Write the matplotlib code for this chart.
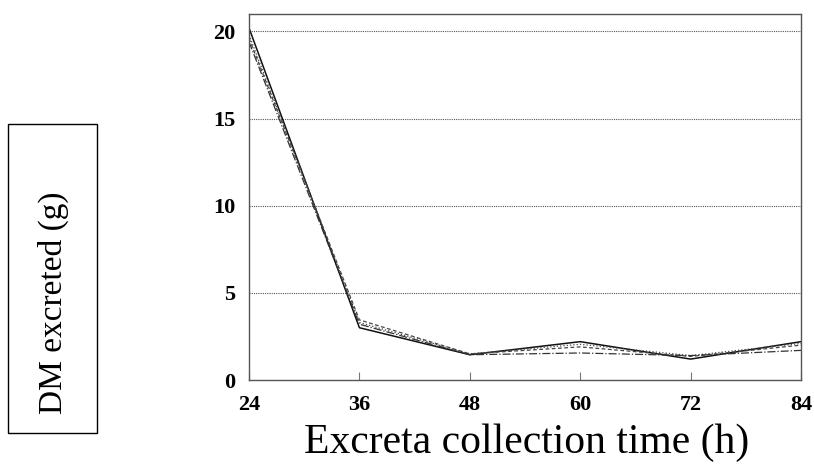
import matplotlib
matplotlib.use("Agg")
import matplotlib.pyplot as plt
from matplotlib.patches import Rectangle

hours = [24, 36, 48, 60, 72, 84]
series_a = [20.2, 3.0, 1.45, 2.2, 1.2, 2.2]
series_b = [19.8, 3.3, 1.5, 2.05, 1.4, 2.1]
series_c = [19.6, 3.45, 1.5, 1.9, 1.35, 2.0]
series_d = [19.4, 3.2, 1.45, 1.55, 1.4, 1.7]
yticks = [0, 5, 10, 15, 20]

fig = plt.figure(figsize=(8.14, 4.68), dpi=100)
ax = fig.add_axes([249/814, 1-380/468, (801-249)/814, (380-14)/468])

ax.plot(hours, series_a, color="#111111", lw=1.1, ls="-")
ax.plot(hours, series_b, color="#444444", lw=0.9, ls=":")
ax.plot(hours, series_c, color="#444444", lw=0.9, ls="--", dashes=(3, 2))
ax.plot(hours, series_d, color="#333333", lw=0.9, ls="-.")

ax.set_xlim(24, 84)
ax.set_ylim(0, 21)
ax.set_xticks(hours)
ax.set_yticks(yticks)
for y in yticks[1:]:
    ax.axhline(y, color="#555555", lw=0.8, ls=(0, (1, 1)), zorder=0)

for s in ax.spines.values():
    s.set_color("#555555")
    s.set_linewidth(1.0)

ax.tick_params(axis="x", direction="in", length=6, color="#777777", pad=11)
ax.tick_params(axis="y", length=0, pad=10)
for lab in ax.get_xticklabels() + ax.get_yticklabels():
    lab.set_fontfamily("Liberation Serif")
    lab.set_fontweight("bold")
    lab.set_fontsize(16)

fig.text(527/814, 1-443/468, "Excreta collection time (h)", ha="center", va="center",
         fontfamily="Liberation Serif", fontsize=30)

fig.text(53/814, 1-303/468, "DM excreted (g)", rotation=90, ha="center", va="center",
         fontfamily="Liberation Serif", fontsize=24)
fig.patches.append(Rectangle((8/814, 1-433/468), 89/814, 309/468, transform=fig.transFigure,
                             fill=False, edgecolor="black", lw=1.0))

fig.savefig("out.png", dpi=100)
